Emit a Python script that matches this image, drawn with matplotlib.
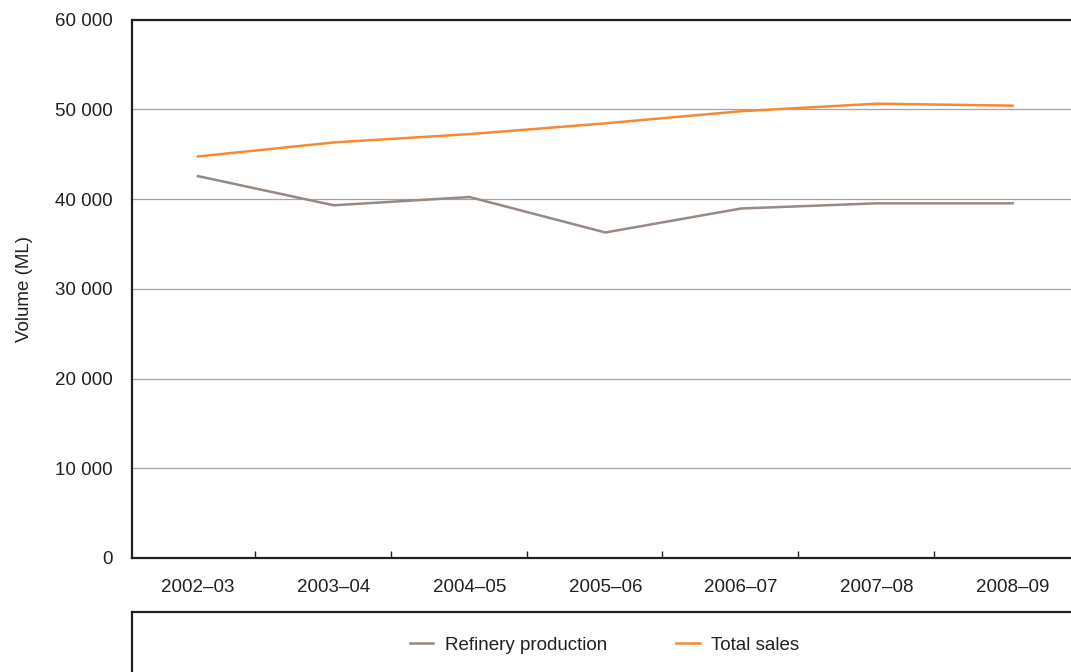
import matplotlib
matplotlib.use('Agg')
import matplotlib.pyplot as plt
import numpy as np

years = ['2002\u201303', '2003\u201304', '2004\u201305', '2005\u201306',
         '2006\u201307', '2007\u201308', '2008\u201309']
refinery = [42550, 39300, 40220, 36270, 38940, 39520, 39520]
total_sales = [44740, 46300, 47230, 48430, 49780, 50620, 50400]

ink = '#231f20'
plt.rcParams['font.family'] = ['Liberation Sans', 'DejaVu Sans']
plt.rcParams['font.size'] = 13.5
plt.rcParams['text.color'] = ink

fig = plt.figure(figsize=(10.71, 6.72), dpi=100)
W, H = 1071.0, 672.0

# main plot area (runs off the right edge like the original)
ax = fig.add_axes([132 / W, 1 - 558 / H, 1 - 132 / W, (558 - 19.5) / H])
x = np.arange(len(years))
ax.plot(x, refinery, color='#968a82', lw=1.8, label='Refinery production')
ax.plot(x, total_sales, color='#f58a32', lw=1.8, label='Total sales')

ax.set_xlim(-0.486, 6.43)
ax.set_ylim(0, 60000)
ax.set_yticks(np.arange(0, 60001, 10000))
ax.set_yticklabels(['0' if v == 0 else f'{v // 1000} 000' for v in range(0, 60001, 10000)])
ax.tick_params(axis='y', length=0, pad=14, labelcolor=ink)
ax.yaxis.grid(True, color='#a3a3a3', lw=0.9)
ax.set_axisbelow(True)

# tick marks between categories, labels at the category centres
ax.set_xticks(x[:-1] + 0.42)
ax.set_xticklabels([])
ax.tick_params(axis='x', which='major', direction='in', length=5, width=1, color=ink)
ax.set_xticks(x, minor=True)
ax.set_xticklabels(years, minor=True)
ax.tick_params(axis='x', which='minor', length=0, pad=15, labelcolor=ink)

ax.set_ylabel('Volume (ML)', color=ink)
ax.yaxis.set_label_coords(-(132 - 33) / (W - 132), 0.5)

ax.spines['right'].set_visible(False)
for s in ['top', 'bottom', 'left']:
    ax.spines[s].set_color(ink)
    ax.spines[s].set_linewidth(1.6)

# legend box below
lax = fig.add_axes([132 / W, -0.05, 1 - 132 / W, (672 - 612) / H + 0.05])
lax.set_xticks([])
lax.set_yticks([])
lax.spines['right'].set_visible(False)
lax.spines['bottom'].set_visible(False)
for s in ['top', 'left']:
    lax.spines[s].set_color(ink)
    lax.spines[s].set_linewidth(1.6)

handles, labels = ax.get_legend_handles_labels()
fig.legend(handles, labels, loc='center', bbox_to_anchor=(604.5 / W, 1 - 645 / H),
           ncol=2, frameon=False, handlelength=1.25, handletextpad=0.6,
           columnspacing=3.7, fontsize=13.5)

fig.savefig('out.png', dpi=100)
